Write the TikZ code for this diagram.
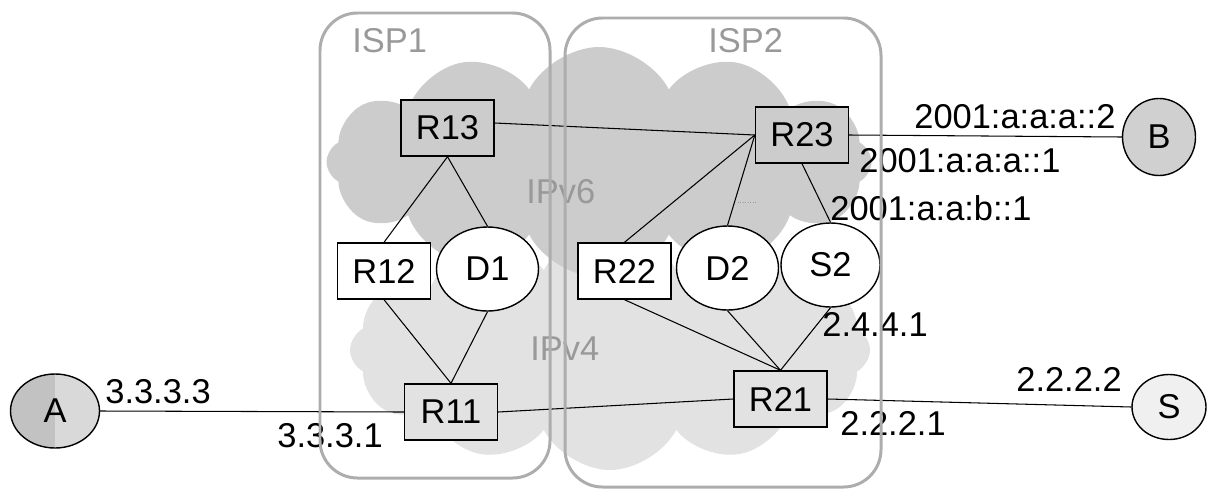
\documentclass[tikz,border=0pt]{standalone}
\usepackage{fontspec}
\setmainfont{Liberation Sans}
\usepackage{tikz}
\usetikzlibrary{
  shapes,
  shapes.geometric,
  shapes.symbols,
  positioning,
  calc
}
\definecolor{netSix}{HTML}{CCCCCC}
\definecolor{netFour}{HTML}{E2E2E2}
\definecolor{ispLine}{HTML}{ADADAD}
\definecolor{ispText}{HTML}{999999}
\definecolor{hostDark}{HTML}{C2C2C2}
\definecolor{hostMid}{HTML}{D9D9D9}
\definecolor{hostB}{HTML}{D0D0D0}
\definecolor{hostS}{HTML}{F0F0F0}
\tikzset{
  netfont/.style={font=\fontsize{19.6}{22}\selectfont},
  rtnode/.style={
    draw, line width=0.8pt, netfont, minimum width=18.6mm, minimum height=11.2mm, inner sep=0pt
  },
  rtsix/.style={rtnode, fill=netSix},
  rtfour/.style={rtnode, fill=netFour},
  rtplain/.style={rtnode, fill=white},
  dnode/.style={
    draw, ellipse, line width=0.8pt, fill=white, netfont,
    minimum width=20.4mm, minimum height=16.8mm, inner sep=0pt
  },
  hostnode/.style={draw, ellipse, line width=0.8pt, netfont, inner sep=0pt},
  netcloud/.style={cloud, cloud puffs=12, cloud puff arc=125, cloud ignores aspect, inner sep=0pt},
  ispbox/.style={draw=ispLine, line width=1.7pt, rounded corners=7.5mm, inner sep=0pt},
  isptag/.style={netfont, text=ispText, anchor=base west, inner sep=0pt},
  addr/.style={netfont, anchor=base west, inner sep=0pt},
  link/.style={line width=0.6pt}
}
\begin{document}
\begin{tikzpicture}
  \useasboundingbox (0,0) rectangle (24.28,9.8);
  % clouds
  \node[netcloud, fill=netFour, minimum width=10.4cm, minimum height=4.8cm] (v4) at (12.20,2.80) {};
  \node[netcloud, fill=netSix, minimum width=10.9cm, minimum height=4.6cm] (v6) at (11.98,6.56) {};
  \node[isptag] (v6tag) at (10.52,5.74) {IPv6};
  \node[isptag] (v4tag) at (10.60,2.60) {IPv4};
  \draw[densely dotted, ispText, line width=0.4pt] (14.76,5.76) -- (15.14,5.76);

  % routers and devices
  \node[rtsix] (R13) at (8.95,7.24) {R13};
  \node[rtsix] (R23) at (16.04,7.10) {R23};
  \node[rtplain] (R12) at (7.68,4.38) {R12};
  \node[dnode] (D1) at (9.75,4.42) {D1};
  \node[rtplain] (R22) at (12.49,4.38) {R22};
  \node[dnode] (D2) at (14.55,4.44) {D2};
  \node[dnode, minimum width=19.8mm] (S2) at (16.61,4.50) {S2};
  \node[rtfour] (R11) at (9.02,1.56) {R11};
  \node[rtfour] (R21) at (15.61,1.82) {R21};

  % end hosts
  \node[hostnode, fill=hostMid, minimum width=17.8mm, minimum height=14.8mm,
        path picture={\fill[hostDark] (path picture bounding box.south west) rectangle (path picture bounding box.north);}] (A) at (1.10,1.58) {A};
  \node[hostnode, fill=hostB, minimum width=14.6mm, minimum height=15.4mm] (B) at (23.18,7.06) {B};
  \node[hostnode, fill=hostS, minimum width=14.8mm, minimum height=13mm] (S) at (23.38,1.66) {S};

  % links
  \draw[link] ([yshift=1mm]R13.east) -- (R23.west);
  \draw[link] (R13.south) -- (R12.north);
  \draw[link] (R13.south) -- (D1.north);
  \draw[link] (R23.west) -- (R22.north);
  \draw[link] (R23.west) -- (D2.north);
  \draw[link] (R23.south) -- (S2.north);
  \draw[link] (R12.south) -- (R11.north);
  \draw[link] (D1.south) -- (R11.north);
  \draw[link] (R22.south) -- (R21.north);
  \draw[link] (D2.south) -- (R21.north);
  \draw[link] (S2.south) -- (R21.north);
  \draw[link] (R11.east) -- (R21.west);
  \draw[link] (A.east) -- (R11.west);
  \draw[link] (R21.east) -- (S.west);
  \draw[link] (R23.east) -- (B.west);

  % addresses
  \node[addr] (a3333) at (2.10,1.74) {3.3.3.3};
  \node[addr] (a3331) at (5.54,0.86) {3.3.3.1};
  \node[addr] (a2222) at (20.32,1.98) {2.2.2.2};
  \node[addr] (a2221) at (16.80,1.10) {2.2.2.1};
  \node[addr] (a2441) at (16.44,3.08) {2.4.4.1};
  \node[addr] (aB2) at (18.28,7.24) {2001:a:a:a::2};
  \node[addr] (aB1) at (17.18,6.36) {2001:a:a:a::1};
  \node[addr] (aS2) at (16.60,5.40) {2001:a:a:b::1};

  % providers
  \node[ispbox, minimum width=4.6cm, minimum height=9.3cm] (isp1) at (8.70,4.89) {};
  \node[ispbox, minimum width=6.32cm, minimum height=9.38cm] (isp2) at (14.46,4.75) {};
  \node[isptag] (isp1tag) at (7.04,8.76) {ISP1};
  \node[isptag] (isp2tag) at (14.16,8.76) {ISP2};
\end{tikzpicture}
\end{document}
